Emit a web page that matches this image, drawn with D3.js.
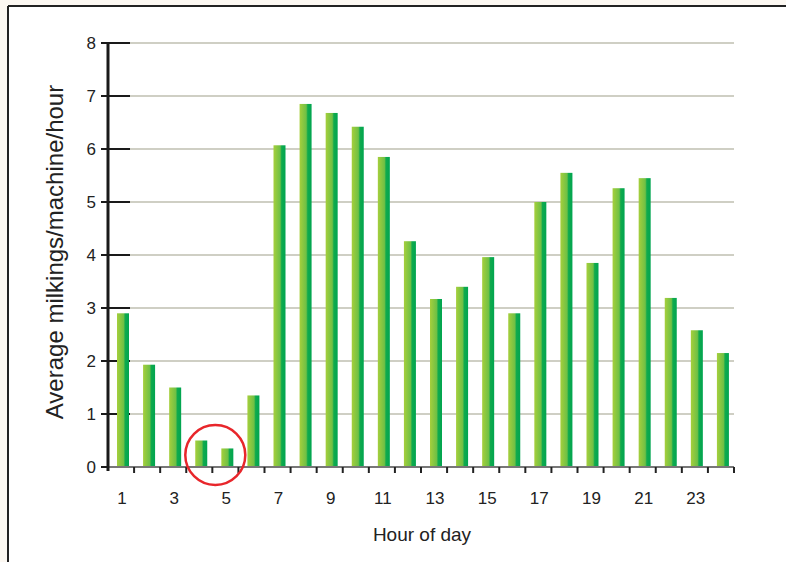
<!DOCTYPE html>
<html>
<head>
<meta charset="utf-8">
<script src="https://cdn.jsdelivr.net/npm/d3@7"></script>
<style>
  body { margin: 0; background: #fcf8f2; }
  svg { display: block; font-family: "Liberation Sans", Arial, sans-serif; }
</style>
</head>
<body>
<div id="chart"></div>
<script>
// hours 1..24 and average milkings per machine per hour
const hours = d3.range(1, 25);
const milkings = [2.9, 1.93, 1.5, 0.5, 0.35, 1.35, 6.07, 6.85, 6.68, 6.42, 5.85, 4.26,
                  3.17, 3.4, 3.96, 2.9, 5.0, 5.55, 3.85, 5.26, 5.45, 3.19, 2.58, 2.15];
const yTicks = [0, 1, 2, 3, 4, 5, 6, 7, 8];
const xLabels = [1, 3, 5, 7, 9, 11, 13, 15, 17, 19, 21, 23];
const highlighted = [4, 5];   // hours circled in red

const W = 786, H = 562;
const margin = {top: 43, right: 52, bottom: 95, left: 108};
const width = W - margin.left - margin.right;
const height = H - margin.top - margin.bottom;

const svg = d3.select("#chart").append("svg")
    .attr("width", W).attr("height", H);

// white panel with the frame on top and left
svg.append("rect").attr("x", 8).attr("y", 6).attr("width", W - 8).attr("height", H - 6).attr("fill", "#fff");
svg.append("line").attr("x1", 8).attr("x2", W).attr("y1", 6).attr("y2", 6)
    .attr("stroke", "#222").attr("stroke-width", 2);
svg.append("line").attr("x1", 8).attr("x2", 8).attr("y1", 6).attr("y2", H)
    .attr("stroke", "#222").attr("stroke-width", 2);

const defs = svg.append("defs");
const grad = defs.append("linearGradient").attr("id", "barGrad")
    .attr("x1", "0%").attr("x2", "100%").attr("y1", "0%").attr("y2", "0%");
grad.append("stop").attr("offset", "0%").attr("stop-color", "#a6cf3c");
grad.append("stop").attr("offset", "55%").attr("stop-color", "#6fc045");
grad.append("stop").attr("offset", "68%").attr("stop-color", "#10aa4d");
grad.append("stop").attr("offset", "100%").attr("stop-color", "#00a550");

const g = svg.append("g").attr("transform", `translate(${margin.left},${margin.top})`);

const x = d3.scaleBand().domain(hours).range([0, width]).paddingInner(0).paddingOuter(0);
const y = d3.scaleLinear().domain([0, 8]).range([height, 0]);

// grid lines: dark stub near the axis, light grey after
g.append("g").selectAll("line.grid").data(yTicks.filter(d => d > 0)).enter()
    .append("line")
    .attr("x1", 22).attr("x2", width)
    .attr("y1", d => y(d)).attr("y2", d => y(d))
    .attr("stroke", "#cfcfc4").attr("stroke-width", 2);
g.append("g").selectAll("line.stub").data(yTicks).enter()
    .append("line")
    .attr("x1", -7).attr("x2", d => d > 0 ? 22 : 0)
    .attr("y1", d => y(d)).attr("y2", d => y(d))
    .attr("stroke", "#1a1a1a").attr("stroke-width", 2);

// bars
const barW = 12;
g.append("g").selectAll("rect").data(hours).enter()
    .append("rect")
    .attr("x", d => x(d) + 9)
    .attr("y", (d, i) => y(milkings[i]))
    .attr("width", barW)
    .attr("height", (d, i) => y(0) - y(milkings[i]))
    .attr("fill", "url(#barGrad)");

// x axis line and ticks at band edges
g.append("line").attr("x1", 0).attr("x2", width).attr("y1", y(0)).attr("y2", y(0))
    .attr("stroke", "#777").attr("stroke-width", 2);
g.append("g").selectAll("line").data(hours).enter()
    .append("line")
    .attr("x1", d => x(d) + x.bandwidth()).attr("x2", d => x(d) + x.bandwidth())
    .attr("y1", y(0)).attr("y2", y(0) + 6)
    .attr("stroke", "#222").attr("stroke-width", 2);

// y axis line
g.append("line").attr("x1", 0).attr("x2", 0).attr("y1", y(8) - 1).attr("y2", y(0) + 4)
    .attr("stroke", "#1a1a1a").attr("stroke-width", 3);

// tick labels
g.append("g").selectAll("text").data(yTicks).enter()
    .append("text")
    .attr("x", -12).attr("y", d => y(d)).attr("dy", "0.36em")
    .attr("text-anchor", "end").attr("font-size", 17).attr("fill", "#222")
    .text(d => d);
g.append("g").selectAll("text").data(xLabels).enter()
    .append("text")
    .attr("x", d => x(d) + 14).attr("y", y(0) + 37)
    .attr("text-anchor", "middle").attr("font-size", 17).attr("fill", "#222")
    .text(d => d);

// axis titles
g.append("text")
    .attr("x", width / 2 + 1).attr("y", y(0) + 74)
    .attr("text-anchor", "middle").attr("font-size", 19).attr("fill", "#222")
    .text("Hour of day");
g.append("text")
    .attr("transform", `translate(-45,${height / 2 - 3}) rotate(-90)`)
    .attr("text-anchor", "middle").attr("font-size", 24).attr("fill", "#222")
    .text("Average milkings/machine/hour");

// red circle around the low hours
const cx = (x(highlighted[0]) + x(highlighted[1]) + 2 * 9 + barW) / 2 + 1;
g.append("circle")
    .attr("cx", cx).attr("cy", y(0) - 12).attr("r", 30)
    .attr("fill", "none").attr("stroke", "#e8262b").attr("stroke-width", 2.5);
</script>
</body>
</html>
